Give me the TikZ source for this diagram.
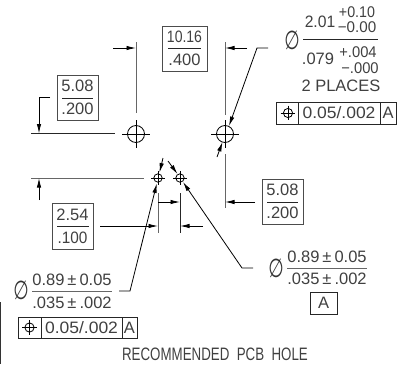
\documentclass[tikz,border=0pt]{standalone}
\usepackage{fontspec}
\setmainfont{Liberation Sans}
\newfontfamily\symf{DejaVu Sans}
\usetikzlibrary{arrows.meta,calc}
\tikzset{
  x=1pt,y=-1pt,
  dimline/.style={line width=0.8pt,black!85},
  extline/.style={line width=0.9pt,black!60},
  holeline/.style={line width=0.8pt,black},
  tip/.style={-{Latex[length=9.5pt,width=4.4pt]},line width=0.8pt,black},
  lbl/.style={inner sep=0pt,font=\fontsize{16.5}{16.5}\selectfont,text=black!75},
  small/.style={lbl,font=\fontsize{15.5}{16}\selectfont},
  frame/.style={draw=black!70,line width=0.8pt,inner sep=0pt,fill=none},
  tolbox/.style={draw=black!85,line width=0.8pt},
  dia/.style={inner sep=0pt,font=\symf\fontsize{26}{26}\selectfont,text=black!80},
}
\newcommand{\sx}[2]{\scalebox{#1}[1]{#2}}
\newcommand{\hole}[4]{%
  \coordinate (#1) at (#2,#3);
  \draw[holeline] (#1) circle (#4);
  \draw[holeline] ($(#1)+(-1.6*#4,0)$) -- ($(#1)+(1.6*#4,0)$);
  \draw[holeline] ($(#1)+(0,-1.6*#4)$) -- ($(#1)+(0,1.6*#4)$);
}
\begin{document}
\begin{tikzpicture}
\useasboundingbox (0,0) rectangle (401,364);
% holes
\hole{hA}{136}{134}{8.5}
\hole{hB}{225}{134}{8.5}
\hole{hC}{158}{178}{4.2}
\hole{hD}{180}{178}{4.2}
% extension lines, top
\coordinate (eAt) at (136,42); \coordinate (eAb) at (136,113);
\coordinate (eBt) at (225,42); \coordinate (eBb) at (225,115);
\coordinate (eB2t) at (225,154); \coordinate (eB2b) at (225,208);
\draw[extline] (eAt) -- (eAb);
\draw[extline] (eBt) -- (eBb);
\draw[extline] (eB2t) -- (eB2b);
% top dimension
\coordinate (aL) at (113,48); \coordinate (aLt) at (136,48);
\coordinate (aR) at (247,48); \coordinate (aRt) at (225,48);
\draw[tip] (aL) -- (aLt);
\draw[tip] (aR) -- (aRt);
\node[frame,minimum width=45pt,minimum height=45pt] (bTop) at (184.5,48.5) {};
\node[lbl] (t1016) at (184.5,37) {\sx{0.85}{10.16}};
\node[lbl] (t400) at (184.5,60) {.400};
\draw[dimline] (168,48) -- (201,48);
% left 5.08
\node[frame,minimum width=41pt,minimum height=45pt] (bL) at (77.5,97.5) {};
\node[lbl] (t508a) at (77.5,86) {5.08};
\node[lbl] (t200a) at (77.5,109) {.200};
\draw[dimline] (62,98) -- (93,98);
\coordinate (lA) at (50,97); \coordinate (lB) at (39,97); \coordinate (lC) at (39,133.5);
\draw[tip] (lA) -- (lB) -- (lC);
\coordinate (h1a) at (31,133.5); \coordinate (h1b) at (115,133.5);
\draw[dimline] (h1a) -- (h1b);
\coordinate (h2a) at (31,178); \coordinate (h2b) at (144,178);
\draw[extline] (h2a) -- (h2b);
\coordinate (uA) at (39,200); \coordinate (uB) at (39,178);
\draw[tip] (uA) -- (uB);
% 2.54 box
\node[frame,minimum width=41pt,minimum height=46pt] (bM) at (72.5,226) {};
\node[lbl] (t254) at (72.5,215) {2.54};
\node[lbl] (t100) at (72.5,238) {\sx{0.93}{.100}};
\draw[dimline] (57,226) -- (89,226);
\coordinate (cT) at (158,193); \coordinate (cB) at (158,233);
\coordinate (dT) at (180,193); \coordinate (dB) at (180,233);
\draw[extline] (cT) -- (cB);
\draw[dimline] (dT) -- (dB);
\coordinate (m1) at (158,202); \coordinate (m1t) at (180,202);
\draw[tip] (m1) -- (m1t);
\coordinate (m2) at (100,226); \coordinate (m2t) at (158,226);
\draw[tip] (m2) -- (m2t);
\coordinate (m3) at (203,226); \coordinate (m3t) at (180,226);
\draw[tip] (m3) -- (m3t);
% right 5.08
\node[frame,minimum width=41pt,minimum height=45pt] (bR) at (282.5,201.5) {};
\node[lbl] (t508b) at (282.5,190) {5.08};
\node[lbl] (t200b) at (282.5,213) {.200};
\draw[dimline] (267,202) -- (298,202);
\coordinate (r1) at (255,202); \coordinate (r1t) at (225,202);
\draw[tip] (r1) -- (r1t);
% leader, big hole
\coordinate (q1) at (268,48); \coordinate (q2) at (257,48); \coordinate (q3) at (229,126);
\draw[tip] (q1) -- (q2) -- (q3);
\coordinate (q4) at (217,157); \coordinate (q5) at (222.5,142);
\draw[tip] (q4) -- (q5);
% leader, left small hole
\coordinate (s1) at (119,291); \coordinate (s2) at (130,291); \coordinate (s3) at (156.8,183.5);
\draw[tip] (s1) -- (s2) -- (s3);
\coordinate (s4) at (163,158); \coordinate (s5) at (159.5,172.5);
\draw[tip] (s4) -- (s5);
% leader, right small hole
\coordinate (w1) at (253,268); \coordinate (w2) at (242,268); \coordinate (w3) at (183,182);
\draw[tip] (w1) -- (w2) -- (w3);
\coordinate (w4) at (168,161); \coordinate (w5) at (177.5,174);
\draw[tip] (w4) -- (w5);
% top right callout
\node[dia] (d1) at (292,40) {\sx{0.68}{∅}};
\node[lbl] (p1) at (320,22) {\sx{0.95}{2.01}};
\node[small] (p2) at (357,12) {\sx{0.92}{+0.10}};
\node[small] (p3) at (357,27) {\sx{0.98}{−0.00}};
\draw[dimline] (303,39) -- (378,39);
\node[lbl] (p4) at (318,59) {.079};
\node[small] (p5) at (358,52) {\sx{0.95}{+.004}};
\node[small] (p6) at (360,68) {\sx{0.95}{−.000}};
\node[lbl] (p7) at (341,86) {2 PLACES};
\node[tolbox,minimum width=120pt,minimum height=22pt,inner sep=0pt] (ft1) at (336,113) {};
\draw[tolbox] (298,102) -- (298,124);
\draw[tolbox] (380,102) -- (380,124);
\hole{sy1}{288}{113}{4.6}
\node[lbl] (f1) at (339,113) {\sx{1.06}{0.05/.002}};
\node[lbl] (f2) at (388,113) {A};
% right small callout
\node[dia] (d2) at (276,268) {\sx{0.68}{∅}};
\node[lbl] (v1) at (327,257) {0.89\hspace{3pt}±\hspace{3pt}0.05};
\draw[extline] (287,268) -- (367,268);
\node[lbl] (v2) at (327,279) {.035\hspace{3pt}±\hspace{3pt}.002};
\node[tolbox,minimum width=27pt,minimum height=22pt,inner sep=0pt] (ab) at (323.5,303) {};
\node[lbl] (v3) at (323.5,303) {A};
% left small callout
\node[dia] (d3) at (21,290) {\sx{0.68}{∅}};
\node[lbl] (u1) at (72,280) {0.89\hspace{3pt}±\hspace{3pt}0.05};
\draw[extline] (32,291) -- (112,291);
\node[lbl] (u2) at (72,303) {.035\hspace{3pt}±\hspace{3pt}.002};
\node[tolbox,minimum width=119pt,minimum height=21pt,inner sep=0pt] (ft2) at (77.5,327.5) {};
\draw[tolbox] (41,317) -- (41,338);
\draw[tolbox] (122,317) -- (122,338);
\hole{sy2}{29.5}{327.5}{4.6}
\node[lbl] (f3) at (81.5,327.5) {\sx{1.06}{0.05/.002}};
\node[lbl] (f4) at (129.5,327.5) {A};
% page edge line
\coordinate (g1) at (0.5,302); \coordinate (g2) at (0.5,364);
\draw[line width=1pt,black!80] (g1) -- (g2);
% title
\node[lbl,font=\fontsize{18}{18}\selectfont] (title) at (215,354) {\sx{0.74}{RECOMMENDED\ \ PCB\ \ HOLE}};
\end{tikzpicture}
\end{document}
